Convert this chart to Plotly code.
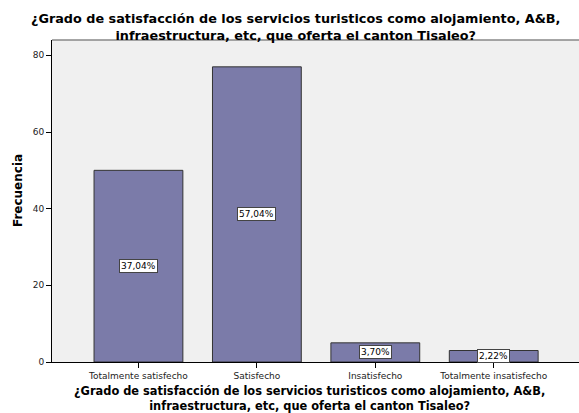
import plotly.graph_objects as go

categories = ["Totalmente satisfecho", "Satisfecho", "Insatisfecho", "Totalmente insatisfecho"]
counts = [50, 77, 5, 3]
pct_labels = ["37,04%", "57,04%", "3,70%", "2,22%"]
y_ticks = [0, 20, 40, 60, 80]
title_text = "¿Grado de satisfacción de los servicios turisticos como alojamiento, A&B,<br>infraestructura, etc, que oferta el canton Tisaleo?"

FONT = "DejaVu Sans, Verdana, sans-serif"

fig = go.Figure()
fig.add_trace(go.Bar(
    x=list(range(len(categories))), y=counts, width=0.75,
    marker=dict(color="#7b7ba9", line=dict(color="#333333", width=1)),
    hoverinfo="skip",
))

for i, (c, t) in enumerate(zip(counts, pct_labels)):
    fig.add_annotation(x=i, y=c / 2, text=t, showarrow=False,
                       font=dict(family=FONT, size=9, color="#000000"),
                       bgcolor="white", bordercolor="#444444", borderwidth=1, borderpad=1)

# chart title
fig.add_annotation(xref="paper", yref="paper", x=0.462, y=1.041, xanchor="center", yanchor="middle",
                   text="<b>" + title_text + "</b>", showarrow=False,
                   font=dict(family=FONT, size=12.8, color="#000000"))
# x-axis title
fig.add_annotation(xref="paper", yref="paper", x=0.488, y=-0.112, xanchor="center", yanchor="middle",
                   text="<b>" + title_text + "</b>", showarrow=False,
                   font=dict(family=FONT, size=11.4, color="#000000"))
# y-axis title
fig.add_annotation(xref="paper", yref="paper", x=-0.0645, y=0.531, xanchor="center", yanchor="middle",
                   text="<b>Frecuencia</b>", showarrow=False, textangle=-90,
                   font=dict(family=FONT, size=12, color="#000000"))

fig.update_layout(
    width=579, height=413,
    margin=dict(l=52, r=0, t=40, b=51, autoexpand=False),
    paper_bgcolor="white", plot_bgcolor="#f0f0f0",
    showlegend=False,
    font=dict(family=FONT, color="#000000"),
)

fig.update_xaxes(
    range=[-0.73, 3.72], tickmode="array", tickvals=list(range(len(categories))), ticktext=categories,
    ticks="outside", ticklen=5, tickcolor="#000000", tickfont=dict(size=9, color="#222222"),
    showline=True, linecolor="#000000", linewidth=1, showgrid=False, zeroline=False,
    automargin=False,
)
fig.update_yaxes(
    range=[0, 84], tickmode="array", tickvals=y_ticks,
    ticks="outside", ticklen=5, tickcolor="#000000", tickfont=dict(size=9, color="#222222"),
    showline=True, linecolor="#000000", linewidth=1, showgrid=False, zeroline=False,
    automargin=False,
)

# top border of plot area
fig.add_shape(type="line", xref="paper", yref="paper", x0=0, x1=1, y0=1, y1=1,
              line=dict(color="#888888", width=1.5))

fig.write_html("out.html", config={"displayModeBar": False},
               post_script="document.body.style.margin='0';document.body.style.overflow='hidden';")
